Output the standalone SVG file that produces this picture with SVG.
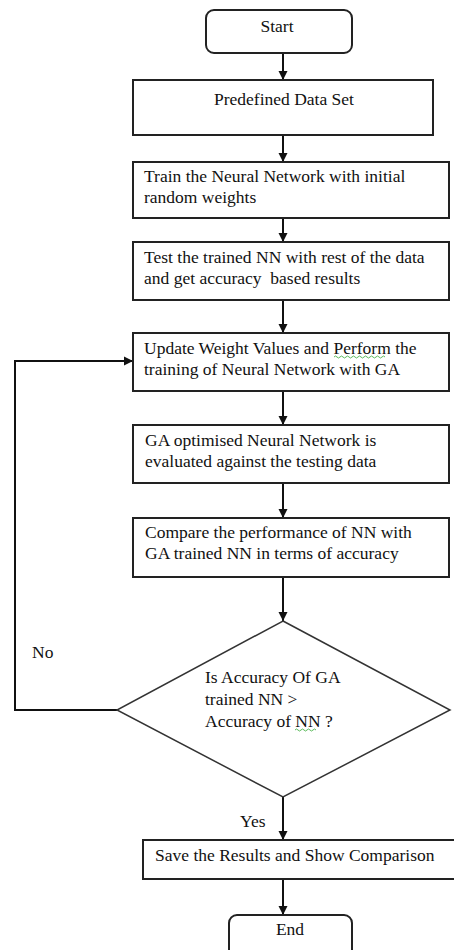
<svg xmlns="http://www.w3.org/2000/svg" width="454" height="950" viewBox="0 0 454 950">
<defs>
<marker id="ah" markerWidth="10" markerHeight="10" refX="9" refY="5" orient="auto" markerUnits="userSpaceOnUse">
<path d="M0,0.5 L9,5 L0,9.5 Z" fill="#111"/>
</marker>
<style>
.box{fill:#fff;stroke:#222;stroke-width:2}
.dia{fill:#fff;stroke:#333;stroke-width:1.5}
text{font-family:'Liberation Serif','Times New Roman','DejaVu Serif',serif;font-size:17.5px;fill:#111}
.c{text-anchor:middle}
.con{fill:none;stroke:#111;stroke-width:2}
.sq{fill:none;stroke:#3a3;stroke-width:0.8}
</style>
</defs>
<rect width="454" height="950" fill="#fff"/>
<g id="connectors">
<line class="con" x1="283" y1="53" x2="283" y2="80" marker-end="url(#ah)"/>
<line class="con" x1="283" y1="135" x2="283" y2="162" marker-end="url(#ah)"/>
<line class="con" x1="283" y1="218" x2="283" y2="242" marker-end="url(#ah)"/>
<line class="con" x1="283" y1="300" x2="283" y2="333" marker-end="url(#ah)"/>
<line class="con" x1="283" y1="391" x2="283" y2="425" marker-end="url(#ah)"/>
<line class="con" x1="283" y1="483" x2="283" y2="518" marker-end="url(#ah)"/>
<line class="con" x1="283" y1="577" x2="283" y2="621" marker-end="url(#ah)"/>
<line class="con" x1="283" y1="797" x2="283" y2="840" marker-end="url(#ah)"/>
<line class="con" x1="283" y1="879" x2="283" y2="915" marker-end="url(#ah)"/>
<polyline class="con" points="117,710 15,710 15,361 133,361" marker-end="url(#ah)"/>
<text x="32" y="658">No</text>
<text x="240" y="827">Yes</text>
</g>
<g id="start">
<rect class="box" x="206" y="10" width="146" height="43" rx="8" stroke="#444"/>
<text class="c" x="277" y="32">Start</text>
</g>
<g id="predefined">
<rect class="box" x="133" y="80" width="300" height="55"/>
<text class="c" x="284" y="105">Predefined Data Set</text>
</g>
<g id="train">
<rect class="box" x="133" y="162" width="316" height="56"/>
<text x="144" y="182">Train the Neural Network with initial</text>
<text x="144" y="203">random weights</text>
</g>
<g id="test">
<rect class="box" x="133" y="242" width="316" height="58"/>
<text x="144" y="263">Test the trained NN with rest of the data</text>
<text x="144" y="284" xml:space="preserve">and get accuracy  based results</text>
</g>
<g id="update">
<rect class="box" x="133" y="333" width="316" height="58"/>
<text x="144" y="354">Update Weight Values and Perform the</text>
<text x="144" y="375">training of Neural Network with GA</text>
<path class="sq" d="M334,357 q1.5,-2 3,0 t3,0 t3,0 t3,0 t3,0 t3,0 t3,0 t3,0 t3,0 t3,0 t3,0 t3,0 t3,0 t3,0 t3,0 t3,0 t3,0"/>
</g>
<g id="ga">
<rect class="box" x="133" y="425" width="316" height="58"/>
<text x="145" y="446">GA optimised Neural Network is</text>
<text x="145" y="467">evaluated against the testing data</text>
</g>
<g id="compare">
<rect class="box" x="133" y="518" width="316" height="59"/>
<text x="145" y="538">Compare the performance of NN with</text>
<text x="145" y="559">GA trained NN in terms of accuracy</text>
</g>
<g id="decision">
<polygon class="dia" points="283,621 450,710 283,797 117,710"/>
<text x="205" y="683">Is Accuracy Of GA</text>
<text x="205" y="705">trained NN &gt;</text>
<text x="205" y="727">Accuracy of NN ?</text>
<path class="sq" d="M295,730 q1.5,-2 3,0 t3,0 t3,0 t3,0 t3,0 t3,0 t3,0"/>
</g>
<g id="save">
<rect class="box" x="143" y="840" width="320" height="39"/>
<text x="155" y="861">Save the Results and Show Comparison</text>
</g>
<g id="end">
<rect class="box" x="229" y="915" width="123" height="45" rx="8" stroke="#444"/>
<text class="c" x="290" y="935">End</text>
</g>
</svg>
